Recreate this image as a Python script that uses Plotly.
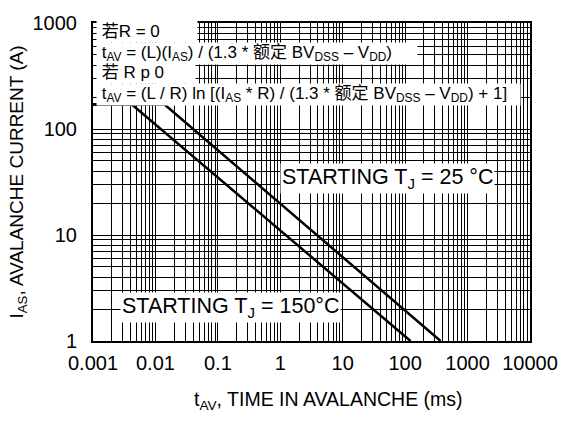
import plotly.graph_objects as go

# Data
t_150 = [0.001, 0.0042, 122]
i_150 = [170, 170, 1]
t_25 = [0.001, 0.014, 370]
i_25 = [170, 170, 1]

x_decades = [0.001, 0.01, 0.1, 1, 10, 100, 1000, 10000]
x_labels = ["0.001", "0.01", "0.1", "1", "10", "100", "1000", "10000"]
y_decades = [1, 10, 100, 1000]
y_labels = ["1", "10", "100", "1000"]

def minor_vals(decades):
    return [d * m for d in decades[:-1] for m in range(2, 10)]

FONT = "Liberation Sans, Arial, Noto Sans CJK SC, sans-serif"

fig = go.Figure()
for tx, iy in [(t_150, i_150), (t_25, i_25)]:
    fig.add_trace(go.Scatter(x=tx, y=iy, mode="lines",
                             line=dict(color="black", width=2.5),
                             showlegend=False, hoverinfo="skip"))

fig.update_layout(
    width=570, height=421,
    margin=dict(l=93, r=37, t=13, b=80),
    paper_bgcolor="white", plot_bgcolor="white",
    font=dict(family=FONT, color="black", size=20),
    xaxis=dict(type="log", range=[-3, 4], tickmode="array",
               tickvals=x_decades, ticktext=x_labels,
               showgrid=True, gridcolor="black", gridwidth=1,
               minor=dict(tickmode="array", tickvals=minor_vals(x_decades),
                          showgrid=True, gridcolor="black", gridwidth=1, ticks=""),
               showline=True, linecolor="black", linewidth=2, mirror=True,
               ticks="", tickfont=dict(size=20), ticklabelstandoff=3,
               zeroline=False),
    yaxis=dict(type="log", range=[0, 3], tickmode="array",
               tickvals=y_decades, ticktext=y_labels,
               showgrid=True, gridcolor="black", gridwidth=1,
               minor=dict(tickmode="array", tickvals=minor_vals(y_decades),
                          showgrid=True, gridcolor="black", gridwidth=1,
                          ticks="inside", ticklen=4, tickcolor="black"),
               showline=True, linecolor="black", linewidth=2, mirror=True,
               ticks="inside", ticklen=4, tickcolor="black",
               tickfont=dict(size=20), ticklabelstandoff=10, zeroline=False,
               title=dict(text="I<sub>AS</sub>, AVALANCHE CURRENT (A)",
                          font=dict(size=19), standoff=4)),
)

# x-axis title
fig.add_annotation(xref="paper", yref="paper", x=0.54, y=0, yshift=-59,
                   xanchor="center", yanchor="middle", showarrow=False,
                   text="t<sub>AV</sub>, TIME IN AVALANCHE (ms)",
                   font=dict(size=19.5, family=FONT))

box_lines = [
    ("若R = 0", 0.973, 100),
    ("t<sub>AV</sub> = (L)(I<sub>AS</sub>) / (1.3 * 额定 BV<sub>DSS</sub> – V<sub>DD</sub>)", 0.905, 320),
    ("若 R p 0", 0.843, 98),
    ("t<sub>AV</sub> = (L / R) ln [(I<sub>AS</sub> * R) / (1.3 * 额定 BV<sub>DSS</sub> – V<sub>DD</sub>) + 1]", 0.776, 423),
]
for txt, yp, w in box_lines:
    fig.add_annotation(xref="paper", yref="paper", x=0, y=yp,
                       xanchor="left", yanchor="middle", xshift=3,
                       text="\u00a0" + txt, showarrow=False, align="left",
                       width=w, height=21, bgcolor="white", borderpad=0,
                       font=dict(size=17, family=FONT))

fig.add_annotation(x=0, y=1.53, xref="x", yref="y", xanchor="left", yanchor="middle",
                   text="STARTING T<sub>J</sub> = 25 °C", showarrow=False,
                   bgcolor="white", borderpad=1, font=dict(size=21.5, family=FONT))
fig.add_annotation(x=-2.57, y=0.32, xref="x", yref="y", xanchor="left", yanchor="middle",
                   text="STARTING T<sub>J</sub> = 150°C", showarrow=False,
                   bgcolor="white", borderpad=1, font=dict(size=21.5, family=FONT))

fig.write_html("out.html")
